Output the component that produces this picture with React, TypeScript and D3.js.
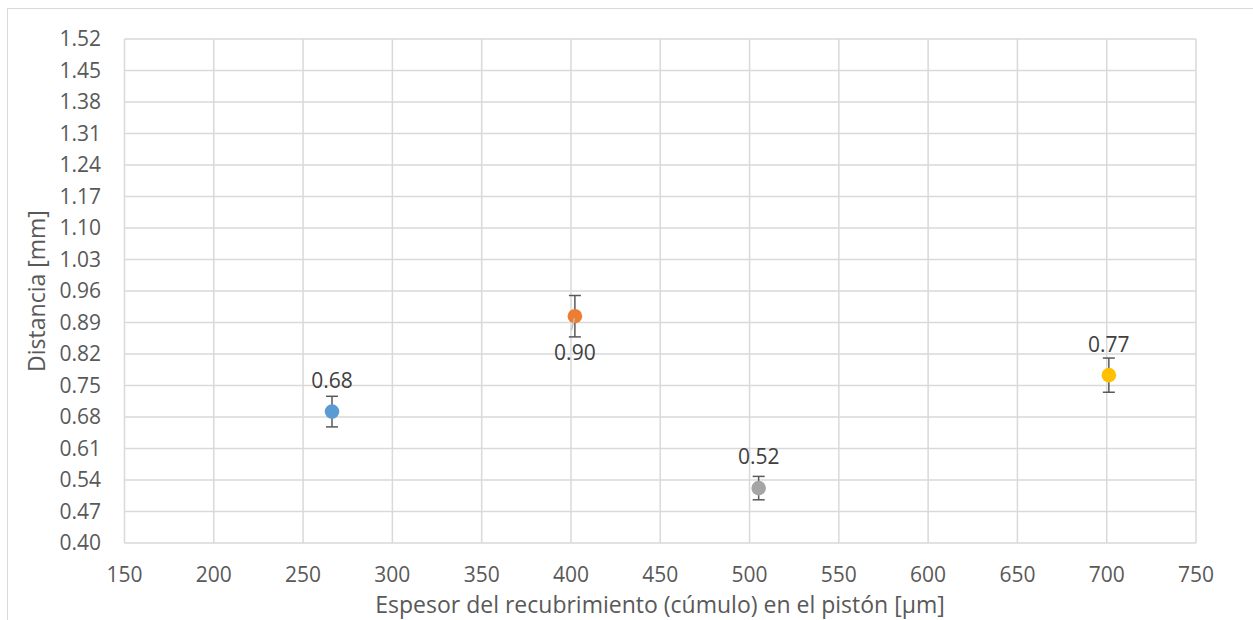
import React from "react";
import * as d3 from "d3";

const thickness = [266.2, 402.2, 505.1, 701.2];
const distance = [0.692, 0.904, 0.522, 0.773];
const errors = [0.034, 0.046, 0.026, 0.038];
const labels = ["0.68", "0.90", "0.52", "0.77"];
const labelBelow = [false, true, false, false];
const colors = ["#5B9BD5", "#ED7D31", "#A5A5A5", "#FFC000"];
const xTicks = [150, 200, 250, 300, 350, 400, 450, 500, 550, 600, 650, 700, 750];
const yTicks = [0.4, 0.47, 0.54, 0.61, 0.68, 0.75, 0.82, 0.89, 0.96, 1.03, 1.1, 1.17, 1.24, 1.31, 1.38, 1.45, 1.52];

const W = 1253, H = 620;
const left = 124.5, right = 1196, top = 39, bottom = 543;
const font = "'Open Sans', 'Noto Sans', sans-serif";

export default function App() {
  const x = d3.scaleLinear().domain([150, 750]).range([left, right]);
  const y = d3.scaleLinear().domain([0.4, 1.52]).range([bottom, top]);
  return (
    <svg width={W} height={H} style={{ position: "absolute", left: 0, top: 0, background: "#fff" }}>
      <rect x={7.5} y={8.5} width={W + 10} height={H + 10} fill="#fff" stroke="#d9d9d9" strokeWidth={1} />
      {yTicks.map((t, i) => (
        <line key={"gy" + i} x1={left} x2={right} y1={y(t)} y2={y(t)} stroke="#d9d9d9" strokeWidth={1.5} />
      ))}
      {xTicks.map((t, i) => (
        <line key={"gx" + i} x1={x(t)} x2={x(t)} y1={top} y2={bottom} stroke="#d9d9d9" strokeWidth={1.5} />
      ))}
      {yTicks.map((t, i) => (
        <text key={"ty" + i} x={101} y={y(t)} dy="0.35em" textAnchor="end" fontFamily={font} fontSize={21} fill="#595959">
          {d3.format(".2f")(t)}
        </text>
      ))}
      {xTicks.map((t, i) => (
        <text key={"tx" + i} x={x(t)} y={575} dy="0.35em" textAnchor="middle" fontFamily={font} fontSize={21} fill="#595959">
          {t}
        </text>
      ))}
      <text x={660} y={605} dy="0.35em" textAnchor="middle" fontFamily={font} fontSize={23} fill="#595959">
        Espesor del recubrimiento (cúmulo) en el pistón [µm]
      </text>
      <text transform={`translate(37,${(top + bottom) / 2}) rotate(-90)`} dy="0.35em" textAnchor="middle" fontFamily={font} fontSize={23} fill="#595959">
        Distancia [mm]
      </text>
      {thickness.map((t, i) => {
        const cx = x(t), cy = y(distance[i]);
        const y1 = y(distance[i] + errors[i]), y2 = y(distance[i] - errors[i]);
        const ly = labelBelow[i] ? cy + 36 : cy - 31;
        return (
          <g key={"p" + i}>
            <line x1={cx} x2={cx} y1={y1} y2={y2} stroke="#595959" strokeWidth={1.5} />
            <line x1={cx - 6} x2={cx + 6} y1={y1} y2={y1} stroke="#595959" strokeWidth={1.5} />
            <line x1={cx - 6} x2={cx + 6} y1={y2} y2={y2} stroke="#595959" strokeWidth={1.5} />
            <circle cx={cx} cy={cy} r={7.3} fill={colors[i]} />
            {labelBelow[i] && (
              <line x1={cx - 3.5} x2={cx - 0.5} y1={cy + 14} y2={cy + 2} stroke="#bfbfbf" strokeWidth={1.5} />
            )}
            <text x={cx} y={ly} dy="0.35em" textAnchor="middle" fontFamily={font} fontSize={21} fill="#404040">
              {labels[i]}
            </text>
          </g>
        );
      })}
    </svg>
  );
}
